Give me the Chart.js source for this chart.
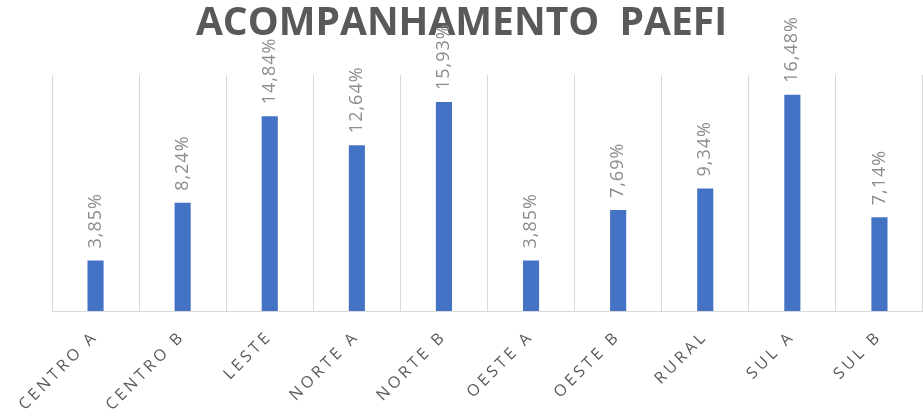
<!DOCTYPE html>
<html>
<head>
<meta charset="utf-8">
<script src="https://cdn.jsdelivr.net/npm/chart.js@4"></script>
<style>
    html, body { margin: 0; padding: 0; background: #ffffff; }
    #wrap { width: 923px; height: 418px; }
</style>
</head>
<body>
<div id="wrap"><canvas id="chart"></canvas></div>
<script>
const categories = ["CENTRO A", "CENTRO B", "LESTE", "NORTE A", "NORTE B", "OESTE A", "OESTE B", "RURAL", "SUL A", "SUL B"];
const percentages = [3.85, 8.24, 14.84, 12.64, 15.93, 3.85, 7.69, 9.34, 16.48, 7.14];

const formatPct = (v) => v.toFixed(2).replace(".", ",") + "%";

// draw the rotated value labels above each bar
const barLabels = {
    id: "barLabels",
    afterDatasetsDraw(chart) {
        const ctx = chart.ctx;
        const meta = chart.getDatasetMeta(0);
        ctx.save();
        ctx.font = "18px 'Open Sans'";
        ctx.fillStyle = "#8c8c8c";
        ctx.letterSpacing = "1px";
        ctx.textAlign = "left";
        ctx.textBaseline = "middle";
        meta.data.forEach((bar, i) => {
            ctx.save();
            ctx.translate(bar.x, bar.y - 12);
            ctx.rotate(-Math.PI / 2);
            ctx.fillText(formatPct(percentages[i]), 0, 0);
            ctx.restore();
        });
        ctx.restore();
    },
};

// spaced-out category labels, only on the x axis
const tickSpacing = {
    id: "tickSpacing",
    afterLayout(chart) {
        const scale = chart.scales.x;
        if (scale._spaced) return;
        const drawLabels = scale.drawLabels;
        scale.drawLabels = function (area) {
            const ctx = this.ctx;
            ctx.save();
            ctx.letterSpacing = "3.5px";
            drawLabels.call(this, area);
            ctx.restore();
        };
        scale._spaced = true;
    },
};

new Chart(document.getElementById("chart"), {
    type: "bar",
    data: {
        labels: categories,
        datasets: [
            {
                data: percentages,
                backgroundColor: "#4472C4",
                barPercentage: 0.185,
                categoryPercentage: 1,
            },
        ],
    },
    options: {
        responsive: true,
        maintainAspectRatio: false,
        animation: false,
        layout: {
            padding: 0,
        },
        plugins: {
            legend: { display: false },
            tooltip: { enabled: false },
            title: {
                display: true,
                text: "ACOMPANHAMENTO  PAEFI",
                color: "#595959",
                font: { family: "'Open Sans'", size: 39, weight: "bold", lineHeight: 1.2 },
                padding: { top: 0, bottom: 28 },
            },
        },
        scales: {
            x: {
                offset: true,
                grid: {
                    offset: true,
                    color: "#d9d9d9",
                    drawTicks: false,
                },
                border: { color: "#d9d9d9" },
                ticks: {
                    color: "#595959",
                    font: { family: "'Open Sans'", size: 16 },
                    minRotation: 45,
                    maxRotation: 45,
                    padding: 16,
                },
                afterFit(scale) {
                    scale.height = 107;
                },
            },
            y: {
                min: 0,
                max: 18,
                grid: { display: false },
                border: { display: false },
                ticks: { display: false },
                afterFit(scale) {
                    scale.width = 52;
                },
            },
        },
    },
    plugins: [tickSpacing, barLabels],
});
</script>
</body>
</html>
